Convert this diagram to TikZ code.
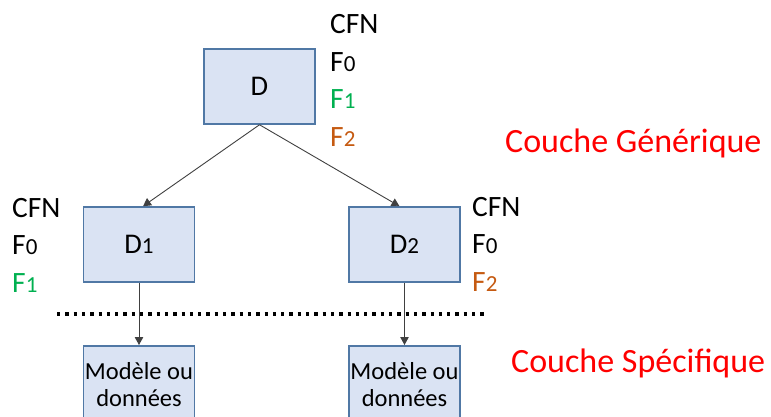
\documentclass[tikz,border=0pt]{standalone}
\usepackage{fontspec}
\setmainfont{Carlito}
\usetikzlibrary{arrows.meta}
\definecolor{boxfill}{RGB}{218,227,243}
\definecolor{boxline}{RGB}{80,120,165}
\definecolor{fgreen}{RGB}{0,176,80}
\definecolor{forange}{RGB}{197,90,17}
\definecolor{cred}{RGB}{255,0,0}
\definecolor{arrowgray}{RGB}{64,64,64}
\newcommand\smalldig[1]{{\fontsize{23}{23}\selectfont #1}}
\tikzset{
  dbox/.style={draw=boxline, line width=1.5pt, fill=boxfill, minimum width=111pt, minimum height=75pt, inner sep=0pt, font=\fontsize{28.5}{28.5}\selectfont},
  mbox/.style={draw=boxline, line width=1.5pt, fill=boxfill, minimum width=111pt, minimum height=78pt, inner sep=0pt, align=center, font=\fontsize{24.5}{27}\selectfont},
  lab/.style={anchor=base west, inner sep=0pt, font=\fontsize{29.5}{29.5}\selectfont},
  layer/.style={anchor=base west, inner sep=0pt, text=cred, font=\fontsize{34}{34}\selectfont},
  conn/.style={draw=arrowgray, line width=0.9pt, -{Triangle[length=8pt,width=8.5pt]}, shorten >=0pt}
}
\begin{document}
\begin{tikzpicture}[x=1pt,y=-1pt]
\useasboundingbox (0,0) rectangle (771,416);
\clip (0,0) rectangle (771,416);
% boxes
\node[dbox] (D) at (259.5,86.5) {D};
\node[dbox] (D1) at (139,244.5) {D\smalldig{1}};
\node[dbox] (D2) at (404.5,244.5) {D\smalldig{2}};
\node[mbox, anchor=north] (M1) at (139,345) {Modèle ou\\données};
\node[mbox, anchor=north] (M2) at (404.5,345) {Modèle ou\\données};
% labels top
\node[lab] (t1) at (330,33) {CFN};
\node[lab] (t2) at (330,71) {F\smalldig{0}};
\node[lab, text=fgreen] (t3) at (330,108.5) {F\smalldig{1}};
\node[lab, text=forange] (t4) at (330,146.5) {F\smalldig{2}};
% labels left
\node[lab] (l1) at (12,217) {CFN};
\node[lab] (l2) at (12,254) {F\smalldig{0}};
\node[lab, text=fgreen] (l3) at (12,292) {F\smalldig{1}};
% labels right
\node[lab] (r1) at (472,216) {CFN};
\node[lab] (r2) at (472,253) {F\smalldig{0}};
\node[lab, text=forange] (r3) at (472,291) {F\smalldig{2}};
% layers
\node[layer] (g) at (505,152) {Couche Générique};
\node[layer] (s) at (511,372) {Couche Spécifique};
% dotted separator
\coordinate (sepL) at (57,314);
\coordinate (sepR) at (484,314);
\draw[line width=3.2pt, dash pattern=on 3.3pt off 5pt] (sepL) -- (sepR);
% connectors
\draw[conn] (D.south) -- ([xshift=4pt]D1.north);
\draw[conn] (D.south) -- ([xshift=-5pt]D2.north);
\draw[conn] (D1.south) -- (M1.north);
\draw[conn] (D2.south) -- (M2.north);
\end{tikzpicture}
\end{document}
